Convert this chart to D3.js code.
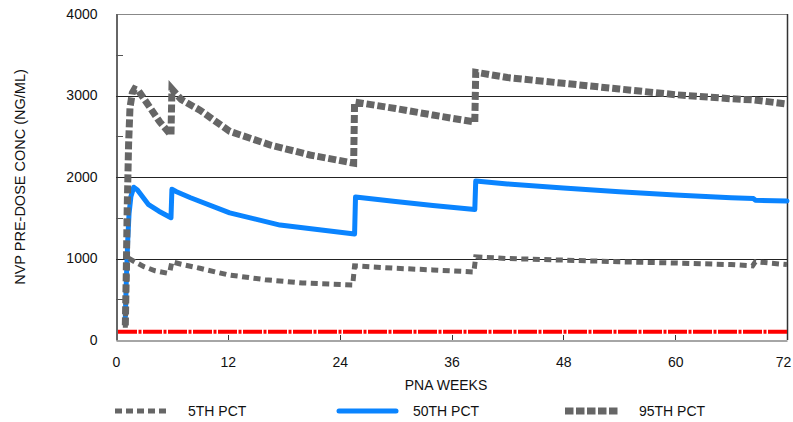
<!DOCTYPE html>
<html>
<head>
<meta charset="utf-8">
<script src="https://cdn.jsdelivr.net/npm/d3@7/dist/d3.min.js"></script>
<style>
  html, body { margin: 0; padding: 0; background: #fff; }
  svg { display: block; }
  text { font-family: "Liberation Sans", Arial, sans-serif; fill: #111; }
</style>
</head>
<body>
<svg id="chart" width="793" height="422"></svg>
<script>
// ---- data ----
const xTicks = [0, 12, 24, 36, 48, 60, 72];
const yTicks = [0, 1000, 2000, 3000, 4000];
const yMinorTicks = [500, 1500, 2500, 3500];
const gridValues = [1000, 2000, 3000];
const limitValue = 100;

const p5Weeks  = [1.0, 1.1, 1.25, 1.4, 2.0, 3.0, 4.2, 5.5, 5.8, 6.0, 7.0, 9.0, 12, 16, 20, 25.4, 25.6, 30, 34, 38.4, 38.6, 42, 48, 54, 60, 66, 68.3, 68.6, 72];
const p5Values = [150, 600, 950, 1000, 960, 900, 850, 820, 850, 960, 930, 880, 800, 740, 700, 675, 910, 880, 860, 835, 1020, 1000, 980, 960, 945, 925, 910, 960, 925];

const p50Weeks  = [1.0, 1.1, 1.25, 1.4, 1.6, 1.9, 2.3, 3.5, 4.6, 5.9, 6.0, 6.5, 8.0, 12.2, 17.6, 25.6, 25.7, 30, 34, 38.5, 38.6, 42, 48, 54, 60, 66, 68.4, 68.6, 72];
const p50Values = [280, 700, 1200, 1550, 1760, 1875, 1840, 1660, 1580, 1500, 1850, 1820, 1745, 1560, 1410, 1300, 1755, 1700, 1650, 1600, 1950, 1915, 1865, 1820, 1780, 1745, 1735, 1715, 1705];

const p95Weeks  = [1.0, 1.1, 1.2, 1.35, 1.5, 1.75, 2.0, 2.4, 3.6, 4.7, 5.9, 6.0, 7.0, 9.0, 12.2, 16.5, 20.8, 25.5, 25.6, 30, 34, 38.5, 38.6, 42, 48, 54, 60, 66, 68.5, 72];
const p95Values = [180, 800, 1600, 2400, 2850, 3030, 3080, 3060, 2860, 2675, 2515, 3080, 2950, 2820, 2560, 2395, 2270, 2170, 2920, 2840, 2760, 2675, 3285, 3220, 3150, 3080, 3010, 2960, 2945, 2895];

const legendLabels = ["5TH PCT", "50TH PCT", "95TH PCT"];

// ---- layout ----
const svg = d3.select("#chart");
const L = 116, R = 787, T = 14, B = 340;

const x = d3.scaleLinear().domain([0, 72]).range([L, R]);
const y = d3.scaleLinear().domain([0, 4000]).range([B, T]);

// grid lines
svg.append("g").selectAll("line").data(gridValues).join("line")
  .attr("x1", L).attr("x2", R)
  .attr("y1", d => Math.round(y(d)) + 0.5).attr("y2", d => Math.round(y(d)) + 0.5)
  .attr("stroke", "#222").attr("stroke-width", 1);

// frame top + right
svg.append("line").attr("x1", L).attr("x2", R).attr("y1", T + 0.5).attr("y2", T + 0.5)
  .attr("stroke", "#888").attr("stroke-width", 1.2);
svg.append("line").attr("x1", R + 0.5).attr("x2", R + 0.5).attr("y1", T).attr("y2", B)
  .attr("stroke", "#333").attr("stroke-width", 1.5);

// limit (red) line
svg.append("line")
  .attr("x1", x(0) + 2).attr("x2", x(72))
  .attr("y1", y(limitValue)).attr("y2", y(limitValue))
  .attr("stroke", "#ff0000").attr("stroke-width", 4)
  .attr("stroke-dasharray", "19,1.5,3,1.5");

// axes
const yAxis = d3.axisLeft(y).tickValues(yTicks).tickSize(0).tickPadding(19).tickFormat(d3.format("d"));
const gy = svg.append("g").attr("transform", `translate(${L + 0.5},0)`).call(yAxis);
gy.select(".domain").attr("stroke", "#333").attr("stroke-width", 1.5);
gy.selectAll("text").attr("font-size", 14).attr("fill", "#111")
  .style("font-family", "'Liberation Sans', Arial, sans-serif");

svg.append("g").selectAll("line").data(yMinorTicks).join("line")
  .attr("x1", L).attr("x2", L + 7)
  .attr("y1", d => Math.round(y(d)) + 0.5).attr("y2", d => Math.round(y(d)) + 0.5)
  .attr("stroke", "#555").attr("stroke-width", 1);

const xAxis = d3.axisBottom(x).tickValues(xTicks).tickSize(0).tickPadding(17).tickFormat(d3.format("d"));
const gx = svg.append("g").attr("transform", `translate(0,${B + 0.5})`).call(xAxis);
gx.select(".domain").attr("stroke", "#888").attr("stroke-width", 1.5);
gx.selectAll("text").attr("font-size", 14).attr("fill", "#111")
  .style("font-family", "'Liberation Sans', Arial, sans-serif");
gx.selectAll(".tick").filter(d => d === 72).select("text").attr("dx", "-4");
svg.append("g").selectAll("line").data(xTicks.slice(1, -1)).join("line")
  .attr("x1", d => Math.round(x(d)) + 0.5).attr("x2", d => Math.round(x(d)) + 0.5)
  .attr("y1", B).attr("y2", B - 5)
  .attr("stroke", "#333").attr("stroke-width", 1);

// axis titles
svg.append("text")
  .attr("transform", `translate(25,${(T + B) / 2}) rotate(-90)`)
  .attr("text-anchor", "middle").attr("font-size", 14.5)
  .text("NVP PRE-DOSE CONC (NG/ML)");
svg.append("text")
  .attr("x", 446).attr("y", 390)
  .attr("text-anchor", "middle").attr("font-size", 14)
  .text("PNA WEEKS");

// series
const line = d3.line().x(d => x(d[0])).y(d => y(d[1]));
const zip = (a, b) => a.map((v, i) => [v, b[i]]);

svg.append("path").datum(zip(p50Weeks, p50Values))
  .attr("d", line).attr("fill", "none")
  .attr("stroke", "#0a84ff").attr("stroke-width", 5)
  .attr("stroke-linejoin", "round").attr("stroke-linecap", "round");

svg.append("path").datum(zip(p5Weeks, p5Values))
  .attr("d", line).attr("fill", "none")
  .attr("stroke", "#666").attr("stroke-width", 5)
  .attr("stroke-dasharray", "7,4.5");

svg.append("path").datum(zip(p95Weeks, p95Values))
  .attr("d", line).attr("fill", "none")
  .attr("stroke", "#666").attr("stroke-width", 7)
  .attr("stroke-dasharray", "8,3");

// legend
const legY = 411;
const leg = [
  { x1: 115, x2: 168, tx: 188, stroke: "#666", w: 5, dash: "7,4", cap: "butt" },
  { x1: 339, x2: 396, tx: 413, stroke: "#0a84ff", w: 5, dash: null, cap: "round" },
  { x1: 565, x2: 620, tx: 639, stroke: "#666", w: 7, dash: "8.5,2.5", cap: "butt" }
];
leg.forEach((d, i) => {
  const ln = svg.append("line").attr("x1", d.x1).attr("x2", d.x2)
    .attr("y1", legY).attr("y2", legY)
    .attr("stroke", d.stroke).attr("stroke-width", d.w).attr("stroke-linecap", d.cap);
  if (d.dash) ln.attr("stroke-dasharray", d.dash);
  svg.append("text").attr("x", d.tx).attr("y", legY + 5).attr("font-size", 14).text(legendLabels[i]);
});
</script>
</body>
</html>
